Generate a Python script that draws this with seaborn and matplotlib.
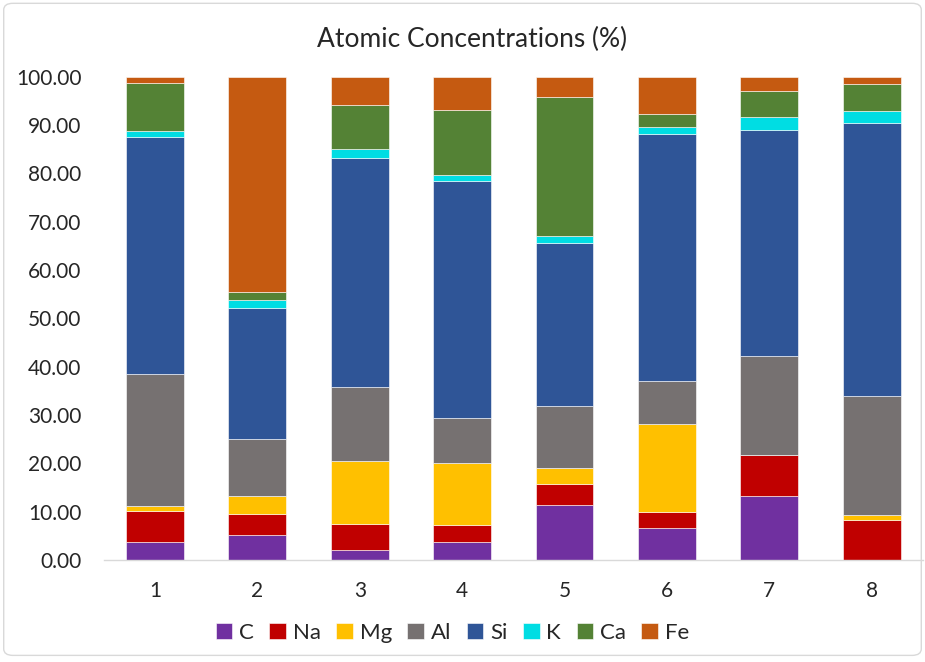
import matplotlib
matplotlib.use("Agg")
import matplotlib.pyplot as plt
import seaborn as sns
import numpy as np
import pandas as pd
from matplotlib.patches import FancyBboxPatch

samples = ["1", "2", "3", "4", "5", "6", "7", "8"]
elements = ["C", "Na", "Mg", "Al", "Si", "K", "Ca", "Fe"]
C  = [3.66, 5.10, 2.00, 3.70, 11.45, 6.70, 13.20, 0.00]
Na = [6.55, 4.35, 5.50, 3.50, 4.25, 3.30, 8.50, 8.20]
Mg = [0.97, 3.80, 12.90, 12.90, 3.40, 18.10, 0.10, 1.10]
Al = [27.40, 11.70, 15.50, 9.20, 12.80, 9.00, 20.50, 24.60]
Si = [49.00, 27.30, 47.30, 49.20, 33.80, 51.10, 46.60, 56.50]
K  = [1.24, 1.50, 1.90, 1.20, 1.30, 1.50, 2.80, 2.60]
Ca = [9.80, 1.80, 9.00, 13.50, 28.90, 2.50, 5.30, 5.60]
Fe = [1.38, 44.45, 5.90, 6.80, 4.10, 7.80, 3.00, 1.40]
series = [C, Na, Mg, Al, Si, K, Ca, Fe]
colors = ["#7030A0", "#C00000", "#FFC000", "#767171", "#2F5597", "#00DDE3", "#548235", "#C55A11"]

sns.set_theme(style="white")
plt.rcParams['font.family'] = ['Lato', 'DejaVu Sans']

fig = plt.figure(figsize=(9.25, 6.62), dpi=100)
ax = fig.add_axes([0.1122, 0.154, 0.8855, 0.730])

bottom = np.zeros(len(samples))
for name, vals, col in zip(elements, series, colors):
    df = pd.DataFrame({"sample": samples, "value": vals})
    sns.barplot(data=df, x="sample", y="value", bottom=bottom, color=col,
                width=0.565, ax=ax, label=name, edgecolor="white", linewidth=0.4,
                saturation=1)
    bottom = bottom + np.array(vals)

ax.set_ylim(0, 100)
ax.set_xlim(-0.5, 7.5)
ax.set_yticks(np.arange(0, 101, 10))
ax.set_yticklabels([f"{v:.2f}" for v in np.arange(0, 101, 10)], fontsize=15)
ax.tick_params(axis="y", length=0, pad=16)
ax.tick_params(axis="x", length=0, pad=15, labelsize=15)
ax.set_xlabel("")
ax.set_ylabel("")
for s in ["top", "right", "left"]:
    ax.spines[s].set_visible(False)
ax.spines["bottom"].set_color("#D9D9D9")
ax.spines["bottom"].set_linewidth(1)
ax.legend().remove()

fig.text(0.51, 1 - 39 / 662, "Atomic Concentrations (%)", ha="center", va="center", fontsize=19)

handles, labels = ax.get_legend_handles_labels()
fig.legend(handles, labels, loc="center", bbox_to_anchor=(0.489, 1 - 633 / 662), ncol=8,
           frameon=False, fontsize=16, handlelength=0.75, handleheight=0.75,
           handletextpad=0.3, columnspacing=0.7)

border = FancyBboxPatch((0.004, 0.01), 0.992, 0.985, boxstyle="round,pad=0,rounding_size=0.01",
                        transform=fig.transFigure, fill=False, edgecolor="#D9D9D9", linewidth=1)
fig.patches.append(border)

fig.savefig("out.png", dpi=100)
